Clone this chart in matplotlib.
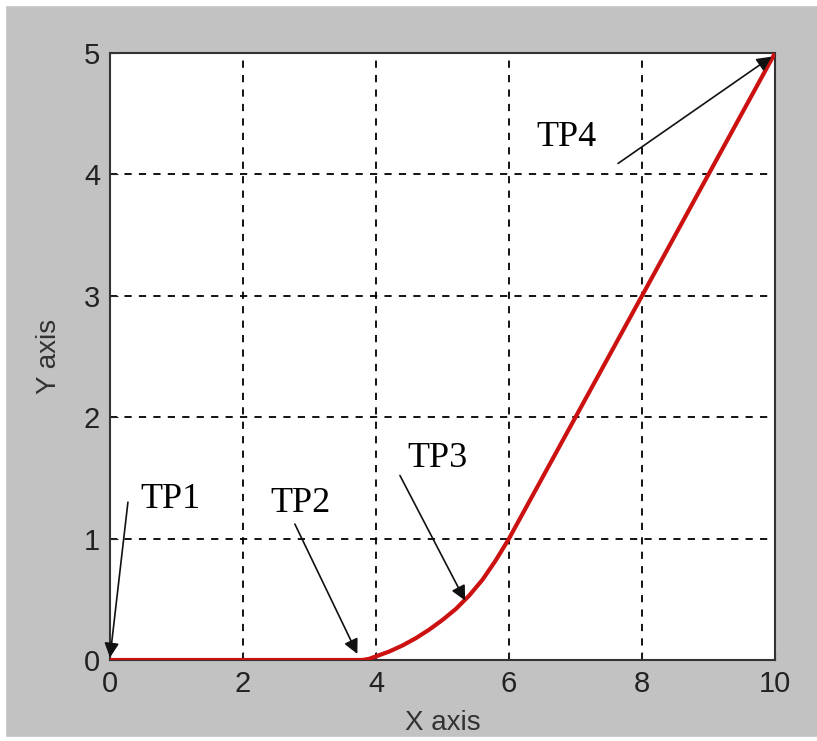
import matplotlib.pyplot as plt
from matplotlib.patches import Rectangle

# curve
x = [0, 1, 2, 3, 3.8, 3.9, 4.0, 4.2, 4.4, 4.6, 4.8, 5.0, 5.2, 5.4, 5.6, 5.8, 6.0, 7.0, 8.0, 9.0, 10.0]
y = [0, 0, 0, 0, 0, 0.01, 0.03, 0.07, 0.12, 0.18, 0.25, 0.33, 0.42, 0.53, 0.66, 0.82, 1.0, 2.0, 3.0, 4.0, 5.0]

labels = ["TP1", "TP2", "TP3", "TP4"]
text_pos = [(0.45, 1.32), (2.87, 1.29), (4.92, 1.66), (6.87, 4.30)]
tail_pos = [(0.27, 1.30), (2.78, 1.12), (4.36, 1.52), (7.64, 4.09)]
tip_pos = [(0.0, 0.02), (3.72, 0.05), (5.34, 0.49), (9.95, 4.97)]

plt.rcParams['font.family'] = ['Liberation Sans', 'DejaVu Sans']

gray = "#c2c2c2"
fig = plt.figure(figsize=(8.17, 7.41), dpi=100, facecolor=gray)
ax = fig.add_axes([0.1346, 0.1093, 0.814, 0.8192])

ax.plot(x, y, color="#cc1111", lw=3, zorder=3)

ax.set_xlim(0, 10)
ax.set_ylim(0, 5)
ax.set_xticks([0, 2, 4, 6, 8, 10])
ax.set_yticks([0, 1, 2, 3, 4, 5])
ax.grid(True, color="black", linestyle=(0, (4, 4)), lw=1.3)
ax.tick_params(direction="in", length=6, labelsize=21, colors="#222222", pad=7)
for s in ax.spines.values():
    s.set_color("#333333")
    s.set_linewidth(1.5)

ax.set_xlabel("X axis", fontsize=20, color="#333333", labelpad=9)
ax.set_ylabel("Y axis", fontsize=20, color="#333333", labelpad=16)

for lab, t, tail, tip in zip(labels, text_pos, tail_pos, tip_pos):
    ax.text(t[0], t[1], lab, fontsize=26, family="Liberation Serif",
            va="center", ha="left" if lab == "TP1" else "center", zorder=5)
    ax.annotate("", xy=tip, xytext=tail,
                arrowprops=dict(arrowstyle="-|>", color="#111111", lw=1.2,
                                mutation_scale=22, shrinkA=0, shrinkB=0),
                zorder=6)

# white border of the scanned image
fig.add_artist(Rectangle((0, 0), 1, 4 / 741, transform=fig.transFigure, color="white", zorder=10))
fig.add_artist(Rectangle((0, 1 - 5 / 741), 1, 5 / 741, transform=fig.transFigure, color="white", zorder=10))
fig.add_artist(Rectangle((0, 0), 5 / 817, 1, transform=fig.transFigure, color="white", zorder=10))

fig.savefig("out.png", dpi=100, facecolor=gray)
